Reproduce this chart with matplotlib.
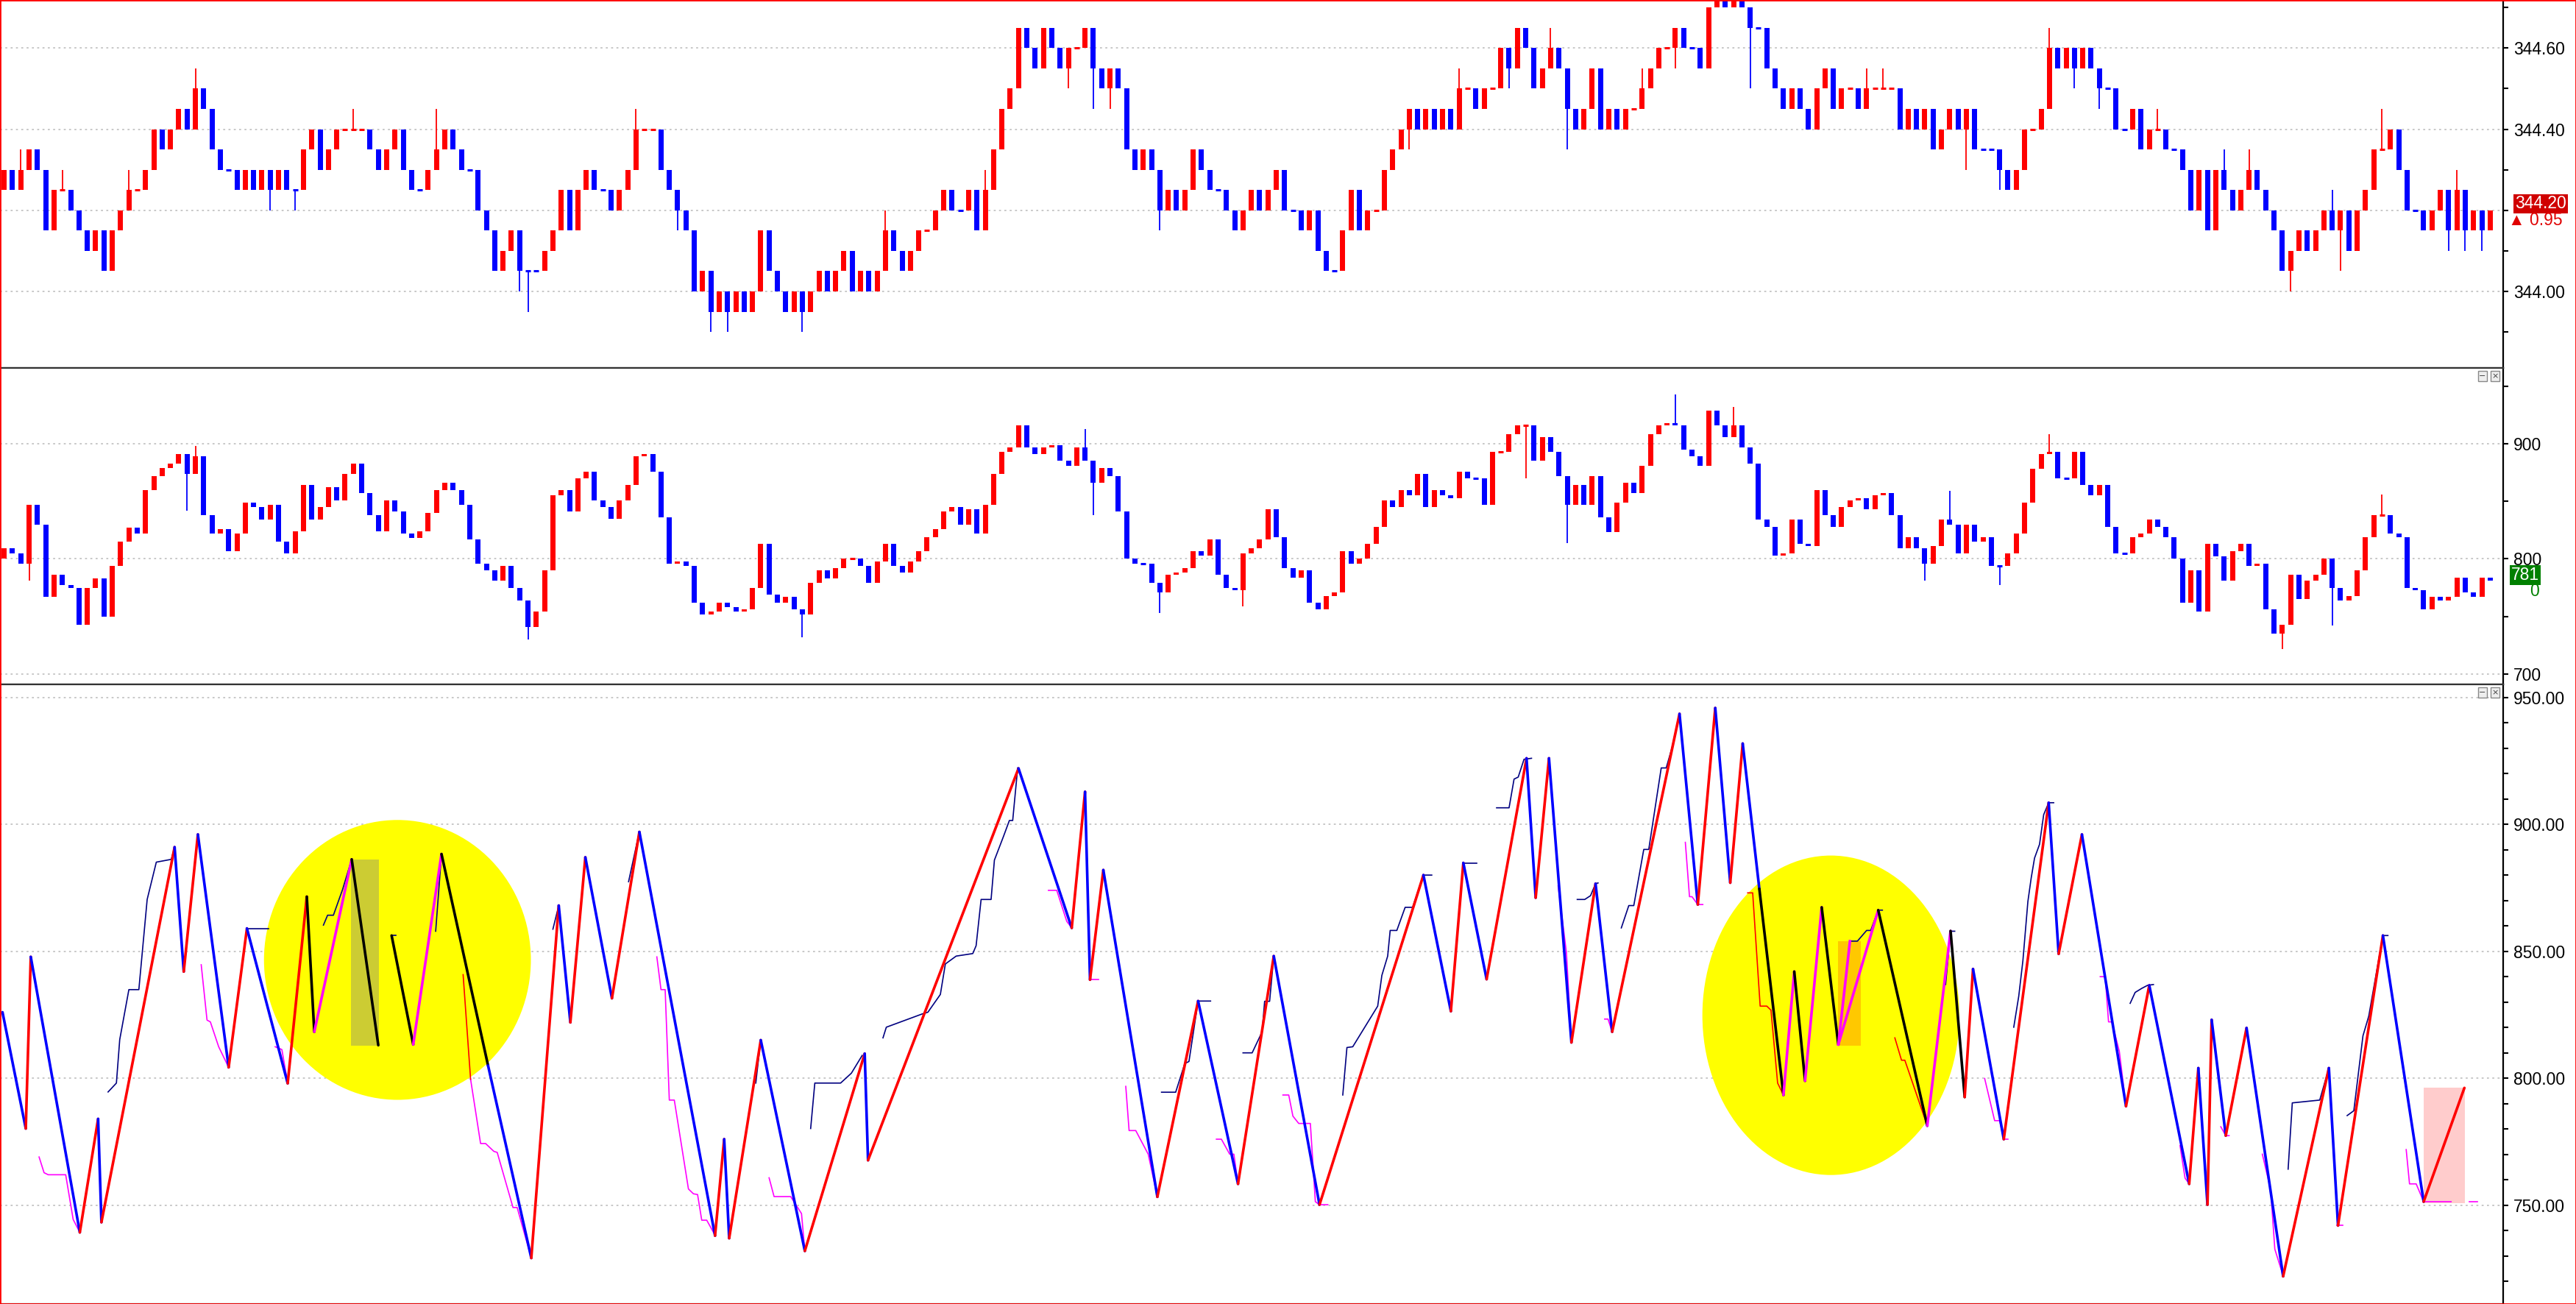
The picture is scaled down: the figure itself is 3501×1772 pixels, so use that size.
import matplotlib
matplotlib.use("Agg")
import matplotlib.pyplot as plt
from matplotlib.patches import Ellipse, Rectangle
from matplotlib.ticker import MultipleLocator, FormatStrFormatter, FuncFormatter
import numpy as np

plt.rcParams['font.family'] = ['Liberation Sans', 'DejaVu Sans']

# ---------------- data ----------------
# top panel: price, closes as tick levels above 344.00 (tick = 0.05)
price_base = 344.00
price_tick = 0.05
price_open0 = 5
price_close = [
    6, 5, 6, 7, 6, 3, 5, 5, 4, 3,
    2, 3, 1, 3, 4, 5, 5, 6, 8, 7,
    8, 9, 8, 10, 9, 7, 6, 6, 5, 6,
    5, 6, 5, 6, 5, 5, 7, 8, 6, 7,
    8, 8, 8, 8, 7, 6, 7, 8, 6, 5,
    5, 6, 7, 8, 7, 6, 6, 4, 3, 1,
    2, 3, 1, 1, 1, 2, 3, 5, 3, 5,
    6, 5, 5, 4, 5, 6, 8, 8, 8, 6,
    5, 4, 3, 0, 1, -1, 0, -1, 0, -1,
    0, 3, 1, 0, -1, 0, -1, 0, 1, 0,
    1, 2, 0, 1, 0, 1, 3, 2, 1, 2,
    3, 3, 4, 5, 4, 4, 5, 3, 5, 7,
    9, 10, 13, 12, 11, 13, 12, 11, 12, 12,
    13, 11, 10, 11, 10, 7, 6, 7, 6, 4,
    5, 4, 5, 7, 6, 5, 5, 4, 3, 4,
    5, 4, 5, 6, 4, 4, 3, 4, 2, 1,
    1, 3, 5, 3, 4, 4, 6, 7, 8, 9,
    8, 9, 8, 9, 8, 10, 10, 9, 10, 10,
    12, 11, 13, 12, 10, 11, 12, 11, 9, 8,
    9, 11, 8, 9, 8, 9, 9, 10, 11, 12,
    12, 13, 12, 12, 11, 14, 15, 14, 15, 14,
    13, 13, 11, 10, 9, 10, 9, 8, 10, 11,
    9, 10, 10, 9, 10, 10, 10, 10, 8, 9,
    8, 9, 7, 8, 9, 8, 9, 7, 7, 7,
    6, 5, 6, 8, 8, 9, 12, 11, 12, 11,
    12, 11, 10, 10, 8, 8, 9, 7, 8, 8,
    7, 7, 6, 4, 6, 3, 6, 5, 4, 5,
    6, 5, 4, 3, 1, 2, 3, 2, 3, 4,
    3, 4, 2, 4, 5, 7, 7, 8, 6, 4,
    4, 3, 4, 5, 3, 5, 3, 4, 3, 4,
]
price_hi = {2: 7, 7: 6, 15: 6, 23: 11, 42: 9, 52: 9, 76: 9, 106: 4, 118: 6,
            175: 11, 186: 13, 197: 11, 206: 16, 224: 11, 226: 11, 229: 9,
            246: 13, 259: 9, 267: 7, 270: 7, 280: 5, 286: 9, 295: 6}
price_lo = {13: 2, 32: 4, 35: 4, 62: 0, 63: -1, 81: 3, 85: -2, 87: -2, 96: -2,
            108: 1, 128: 10, 131: 9, 133: 9, 139: 3, 169: 7, 181: 10, 188: 7,
            201: 11, 210: 10, 236: 6, 240: 5, 249: 10, 252: 9, 262: 6, 275: 0,
            281: 1, 294: 2, 296: 2, 298: 2}

# middle panel: indicator candles
delta_open0 = 800
delta_close = [
    809, 805, 796, 847, 830, 767, 786, 777, 775, 743,
    775, 783, 750, 794, 815, 827, 822, 860, 872, 879,
    883, 891, 874, 889, 838, 822, 826, 807, 822, 849,
    845, 834, 847, 815, 805, 824, 864, 834, 845, 862,
    851, 874, 883, 857, 838, 824, 851, 841, 822, 818,
    824, 840, 860, 866, 860, 847, 817, 796, 790, 781,
    794, 775, 764, 741, 754, 790, 855, 860, 841, 870,
    876, 851, 845, 835, 851, 864, 889, 891, 876, 836,
    796, 798, 794, 762, 752, 754, 762, 758, 754, 756,
    775, 813, 769, 762, 767, 756, 752, 779, 790, 783,
    792, 800, 800, 794, 779, 798, 813, 794, 788, 798,
    807, 819, 826, 841, 845, 830, 843, 822, 847, 874,
    893, 897, 916, 897, 891, 897, 899, 885, 881, 897,
    885, 866, 879, 872, 841, 800, 796, 796, 779, 771,
    786, 788, 792, 807, 803, 817, 786, 775, 773, 805,
    809, 817, 843, 819, 792, 784, 790, 762, 756, 768,
    771, 807, 796, 800, 813, 828, 851, 845, 860, 855,
    874, 845, 860, 855, 853, 876, 870, 870, 847, 893,
    893, 908, 916, 916, 885, 906, 893, 872, 847, 864,
    847, 872, 836, 823, 849, 866, 857, 881, 908, 916,
    918, 916, 895, 889, 881, 929, 916, 906, 916, 897,
    883, 834, 828, 803, 805, 834, 813, 811, 860, 838,
    828, 845, 851, 853, 843, 855, 857, 838, 809, 819,
    809, 796, 811, 834, 830, 805, 830, 815, 819, 794,
    794, 805, 822, 849, 878, 891, 893, 870, 870, 893,
    864, 855, 864, 828, 805, 805, 819, 822, 834, 828,
    819, 800, 762, 790, 754, 813, 802, 781, 807, 813,
    794, 796, 756, 735, 743, 786, 765, 781, 786, 800,
    775, 764, 768, 790, 819, 838, 838, 822, 819, 775,
    773, 756, 767, 764, 767, 784, 771, 767, 784, 781,
]
delta_hi = {23: 898, 130: 913, 201: 943, 208: 932, 234: 859, 246: 908, 286: 856}
delta_lo = {3: 781, 22: 842, 63: 730, 96: 732, 131: 838, 139: 753, 149: 759,
            183: 870, 188: 814, 231: 781, 240: 777, 274: 722, 280: 742}

# bottom panel: swing (zigzag) points, x in bar units
zz_x = [-0.2, 2.6, 3.2, 9.1, 11.3, 11.7, 20.5, 21.6, 23.3, 27.0,
        29.2, 34.1, 36.4, 37.3, 41.8, 45.0, 46.6, 49.2, 52.6, 58.2,
        63.4, 66.7, 68.1, 69.9, 73.1, 76.4, 85.5, 86.6, 87.2, 91.0,
        96.3, 103.5, 103.9, 122.0, 128.4, 130.0, 130.6, 132.2, 138.7, 143.6,
        148.4, 152.7, 158.2, 170.7, 174.0, 175.5, 178.3, 183.1, 184.2, 185.8,
        188.5, 191.4, 193.4, 201.5, 203.7, 205.8, 207.6, 209.1, 211.1, 214.0,
        215.3, 216.6, 218.6, 220.6, 225.4, 231.3, 234.1, 235.8, 236.8, 240.5,
        245.9, 247.1, 249.9, 255.2, 258.0, 262.8, 263.9, 265.0, 265.5, 267.2,
        269.7, 274.1, 279.6, 280.7, 286.1, 291.0, 295.9]
zz_y = [826.0, 780.2, 847.8, 739.3, 784.0, 743.3, 891.0, 842.0, 896.0, 804.3,
        859.0, 798.0, 871.5, 818.3, 886.2, 813.0, 856.2, 813.3, 888.3, 805.0,
        729.2, 868.0, 822.0, 887.0, 831.5, 897.0, 738.0, 776.0, 737.0, 815.0,
        732.0, 809.7, 767.7, 922.0, 859.2, 912.8, 838.8, 882.0, 753.3, 830.4,
        758.4, 848.1, 750.2, 880.0, 826.4, 884.8, 839.0, 926.0, 871.1, 926.0,
        814.1, 876.6, 818.3, 943.5, 868.4, 945.8, 877.0, 931.8, 874.6, 793.4,
        842.0, 799.0, 867.3, 813.3, 866.2, 781.3, 858.0, 792.6, 843.0, 776.0,
        908.5, 849.0, 896.0, 789.0, 836.6, 758.4, 804.0, 750.2, 823.0, 777.4,
        819.8, 722.0, 804.0, 742.0, 856.2, 751.4, 796.2]
# leg colour ending at each point: r up, b down, k / m highlighted, - gap
zz_leg = "-brbrbrbrbrbrkmk-kmk" + "br" * 19 + "b" + "kmkmkmkmk" + "rb" * 9 + "r"

# thin navy step lines
navy_lines = [
    ([12.5, 13.5, 13.9, 15.0, 16.2, 17.2, 18.3, 20.1, 20.5],
     [794.6, 798.1, 815.2, 834.9, 834.9, 870.4, 885.1, 886.2, 891.1]),
    ([29.2, 31.8], [859.0, 859.0]),
    ([38.4, 38.9, 39.6, 40.7, 41.8], [860.3, 864.2, 864.2, 874.3, 886.2]),
    ([46.6, 47.1], [856.2, 856.2]),
    ([51.9, 52.6], [857.9, 888.3]),
    ([66.0, 66.7], [858.7, 868.0]),
    ([75.1, 76.4], [877.4, 897.1]),
    ([90.4, 91.0], [798.1, 815.2]),
    ([97.0, 97.5, 100.6, 101.9, 103.2], [780.2, 798.1, 798.1, 802.0, 809.0]),
    ([105.7, 106.1, 110.4, 111.1, 112.6, 113.2, 114.5, 116.5, 116.9, 117.5,
      118.7, 119.1, 120.2, 120.9, 121.3, 121.9],
     [815.9, 820.1, 825.3, 826.0, 833.0, 845.0, 848.1, 849.1, 852.2, 870.4,
      870.4, 885.9, 895.3, 901.5, 901.5, 922.2]),
    ([139.2, 140.9, 142.0, 142.5, 143.6, 145.1],
     [794.5, 794.5, 805.8, 806.6, 830.4, 830.4]),
    ([149.0, 150.1, 151.3, 151.6, 152.2, 152.7],
     [810.0, 810.0, 818.3, 830.3, 830.3, 848.1]),
    ([161.0, 161.5, 162.2, 165.2, 165.7, 166.4, 166.7, 167.5, 168.5, 169.4, 170.7, 171.7],
     [793.4, 812.1, 812.4, 828.4, 840.5, 848.1, 858.2, 858.2, 867.3, 867.3, 880.0, 880.0]),
    ([175.5, 177.1], [884.8, 884.8]),
    ([179.5, 181.0, 181.6, 182.1, 182.8, 183.7],
     [906.5, 906.5, 917.8, 918.6, 925.6, 926.0]),
    ([189.2, 190.1, 190.8, 191.4, 191.7], [870.4, 870.4, 871.9, 876.6, 876.9]),
    ([194.5, 195.4, 196.0, 197.2, 197.8, 199.3, 199.9, 200.6, 201.5],
     [859.2, 868.0, 868.0, 890.1, 890.1, 922.2, 922.2, 930.2, 943.5]),
    ([222.0, 222.9, 224.0, 224.5, 225.4, 225.9],
     [854.0, 854.0, 858.2, 858.2, 866.2, 866.2]),
    ([233.5, 234.1, 234.6], [836.9, 857.9, 857.9]),
    ([241.7, 242.3, 242.8, 243.4, 243.8, 244.2, 244.8, 245.3, 245.9, 246.5],
     [820.1, 832.3, 846.3, 869.6, 878.9, 886.7, 892.1, 903.8, 908.5, 908.5]),
    ([255.7, 256.3, 257.1, 257.8, 258.5], [829.5, 833.8, 835.4, 836.6, 836.9]),
    ([274.7, 275.2, 278.5, 279.6], [764.2, 790.3, 791.4, 804.0]),
    ([281.8, 282.6, 283.7, 284.4, 286.1, 286.7],
     [785.3, 787.2, 816.7, 824.5, 856.2, 856.2]),
]
# thin magenta step lines
magenta_lines = [
    ([4.2, 4.8, 5.3, 7.4, 8.3, 9.1], [769.0, 762.8, 762.0, 762.0, 744.4, 739.3]),
    ([23.7, 24.4, 24.8, 25.8, 27.0], [844.7, 822.9, 822.2, 812.4, 804.3]),
    ([32.6, 33.4, 34.1], [812.4, 811.3, 798.1]),
    ([56.1, 57.3, 57.9, 58.9, 59.3, 61.2, 61.7, 63.4],
     [799.6, 774.3, 774.3, 771.2, 770.8, 749.1, 749.1, 729.2]),
    ([78.5, 79.0, 79.5, 80.0, 80.6, 82.3, 82.9, 83.4, 83.9, 84.5, 85.5],
     [847.8, 834.9, 834.9, 791.4, 791.4, 756.4, 754.5, 754.2, 744.1, 744.1, 738.2]),
    ([92.0, 92.6, 94.6, 95.9, 96.3], [760.8, 753.4, 753.4, 746.7, 731.9]),
    ([125.6, 126.6, 127.8, 128.4], [874.0, 874.0, 861.8, 859.2]),
    ([130.6, 131.6], [838.8, 838.8]),
    ([134.9, 135.3, 136.1, 137.6, 138.7], [796.8, 779.4, 779.4, 770.1, 753.3]),
    ([145.8, 146.4, 147.4, 147.9, 148.4], [776.0, 776.0, 770.1, 770.1, 758.4]),
    ([153.8, 154.5, 155.0, 155.7, 157.1, 157.7, 158.2, 159.2],
     [793.4, 793.4, 785.1, 782.2, 782.2, 751.4, 750.2, 750.2]),
    ([186.9, 187.9, 188.5], [875.8, 849.4, 814.1]),
    ([192.5, 192.9, 193.4], [823.3, 823.3, 818.3]),
    ([202.2, 202.7, 203.0, 203.7, 204.3], [892.9, 871.5, 871.5, 868.4, 868.4]),
    ([238.2, 239.4, 240.0, 240.5, 241.0], [799.9, 783.3, 783.3, 776.0, 776.0]),
    ([252.1, 252.7, 253.1, 253.5, 254.4, 255.2], [840.0, 840.0, 822.2, 822.2, 810.5, 789.0]),
    ([261.7, 262.3, 262.8], [773.5, 760.7, 758.4]),
    ([266.6, 267.2, 267.6], [780.9, 777.4, 777.4]),
    ([271.6, 272.6, 273.1, 274.1], [770.1, 756.1, 732.7, 722.2]),
    ([280.6, 281.3], [742.1, 742.1]),
    ([288.9, 289.3, 290.1, 291.0, 294.3], [771.9, 758.4, 758.4, 751.4, 751.4]),
    ([296.5, 297.5], [751.4, 751.4]),
]
# thin red step lines
red_lines = [
    ([55.2, 56.1], [840.8, 799.6]),
    ([209.7, 210.3, 211.2, 212.0, 212.5, 213.3, 214.0],
     [873.0, 873.0, 828.4, 828.4, 826.8, 798.1, 793.4]),
    ([227.4, 228.2, 228.6, 231.3], [815.9, 807.1, 807.1, 781.3]),
]
# second highlighted up-leg inside the right circle
extra_leg_x = [220.6, 222.0]
extra_leg_y = [813.3, 854.0]

# highlight shapes (bar units / values)
circles = [(47.3, 846.6, 32.1, 110.2), (219.7, 824.8, 30.9, 125.8)]
boxes = [(41.7, 812.7, 3.4, 73.5, '#cccc33'),
         (220.6, 812.7, 2.7, 41.3, '#ffc800'),
         (291.0, 750.9, 5.0, 45.3, '#ffcccc')]

last_price = 344.20
last_change = "\u25b2 0.95"
last_delta = 781
last_delta_change = "0"

# ---------------- drawing ----------------
RED = '#ff0000'
BLUE = '#0000ff'
W, H = 3501, 1772
FS = 16.5
fig = plt.figure(figsize=(W / 100, H / 100), dpi=100)
fig.patch.set_facecolor('white')

plot_w = 3402 / W
ax1 = fig.add_axes([0, 1 - 500 / H, plot_w, 500 / H])
ax2 = fig.add_axes([0, 1 - 930 / H, plot_w, 430 / H])
ax3 = fig.add_axes([0, 0, plot_w, 842 / H])

xlim = (-0.5, 3402 / 11.3 - 0.5)


def draw_candles(ax, opens, closes, highs, lows, width):
    x = np.arange(len(closes))
    cols = []
    last = RED
    for o, c in zip(opens, closes):
        if c > o:
            last = RED
        elif c < o:
            last = BLUE
        cols.append(last)
    cols = np.array(cols)
    ax.vlines(x, lows, highs, colors=cols, lw=1.3, zorder=2)
    body = closes != opens
    ax.bar(x[body], (closes - opens)[body], bottom=opens[body], width=width,
           color=cols[body], linewidth=0, zorder=3)
    flat = ~body
    ax.hlines(closes[flat], x[flat] - width / 2, x[flat] + width / 2,
              colors=cols[flat], lw=2.2, zorder=3)


# top panel
lv_close = np.array(price_close)
lv_open = np.concatenate([[price_open0], lv_close[:-1]])
lv_hi = np.maximum(lv_open, lv_close).astype(float)
lv_lo = np.minimum(lv_open, lv_close).astype(float)
for k, v in price_hi.items():
    lv_hi[k] = v
for k, v in price_lo.items():
    lv_lo[k] = v
p_close = price_base + price_tick * lv_close
p_open = price_base + price_tick * lv_open
draw_candles(ax1, p_open, p_close, price_base + price_tick * lv_hi,
             price_base + price_tick * lv_lo, 0.62)
ax1.set_ylim(343.8113, 344.7185)

# middle panel
d_close = np.array(delta_close, dtype=float)
d_open = np.concatenate([[delta_open0], d_close[:-1]])
d_hi = np.maximum(d_open, d_close)
d_lo = np.minimum(d_open, d_close)
for k, v in delta_hi.items():
    d_hi[k] = v
for k, v in delta_lo.items():
    d_lo[k] = v
draw_candles(ax2, d_open, d_close, d_hi, d_lo, 0.62)
ax2.set_ylim(691.05, 965.8)

# bottom panel
for cx, cy, ew, eh in circles:
    ax3.add_patch(Ellipse((cx, cy), ew, eh, facecolor='#ffff00', edgecolor='none', zorder=1))
for bx, by, bw, bh, bc in boxes:
    ax3.add_patch(Rectangle((bx, by), bw, bh, facecolor=bc, edgecolor='none', zorder=1.5))
for xs, ys in navy_lines:
    ax3.plot(xs, ys, color='#000080', lw=1.2, zorder=2)
for xs, ys in magenta_lines:
    ax3.plot(xs, ys, color='#ff00ff', lw=1.2, zorder=2)
for xs, ys in red_lines:
    ax3.plot(xs, ys, color=RED, lw=1.2, zorder=2)
leg_colors = {'r': RED, 'b': BLUE, 'k': '#000000', 'm': '#ff00ff'}
for i in range(1, len(zz_x)):
    c = zz_leg[i]
    if c == '-':
        continue
    ax3.plot(zz_x[i - 1:i + 1], zz_y[i - 1:i + 1], color=leg_colors[c], lw=2.6,
             solid_capstyle='round', zorder=3)
ax3.plot(extra_leg_x, extra_leg_y, color='#ff00ff', lw=2.6, zorder=3)
ax3.set_ylim(711.1, 955.1)


def price_fmt(v, pos):
    # the last-price box sits on this level, so leave its tick label blank
    if abs(v - last_price) < 1e-6:
        return ''
    return '%.2f' % v


# axes styling
specs = [(ax1, 0.2, 0.1, FuncFormatter(price_fmt)),
         (ax2, 100, 50, FormatStrFormatter('%d')),
         (ax3, 50, 10, FormatStrFormatter('%.2f'))]
for ax, major, minor, fmt in specs:
    ax.set_xlim(*xlim)
    ax.set_facecolor('white')
    ax.yaxis.tick_right()
    ax.yaxis.set_major_locator(MultipleLocator(major))
    ax.yaxis.set_minor_locator(MultipleLocator(minor))
    ax.yaxis.set_major_formatter(fmt)
    ax.tick_params(axis='y', which='both', direction='out', length=5, width=1.5,
                   colors='black', labelsize=FS, pad=5, right=True, left=False)
    ax.tick_params(axis='x', which='both', bottom=False, labelbottom=False)
    ax.grid(which='major', axis='y', color='#c4c4c4', linestyle=(0, (1.5, 2.5)), lw=1.3)
    ax.set_axisbelow(True)
    ax.spines['left'].set_visible(False)
    ax.spines['right'].set_color('black')
    ax.spines['right'].set_linewidth(1.6)
    for s in ('top', 'bottom'):
        ax.spines[s].set_color('#333333')
        ax.spines[s].set_linewidth(1.6)

# last value labels
tx = 1.0 + 16 / 3402
ax1.text(tx, last_price + 0.016, '%.2f' % last_price, transform=ax1.get_yaxis_transform(),
         ha='left', va='center', fontsize=FS, color='white', zorder=10, clip_on=False,
         bbox=dict(boxstyle='square,pad=0.08', facecolor='#d00000', edgecolor='none'))
ax1.text(1.0 + 81 / 3402, last_price - 0.025, last_change, transform=ax1.get_yaxis_transform(),
         ha='right', va='center', fontsize=FS, color='#e00000', zorder=10, clip_on=False)
ax2.text(1.0 + 49 / 3402, last_delta + 5, str(last_delta), transform=ax2.get_yaxis_transform(),
         ha='right', va='center', fontsize=FS, color='white', zorder=10, clip_on=False,
         bbox=dict(boxstyle='square,pad=0.08', facecolor='#008000', edgecolor='none'))
ax2.text(1.0 + 49 / 3402, last_delta - 9, last_delta_change, transform=ax2.get_yaxis_transform(),
         ha='right', va='center', fontsize=FS, color='#008000', zorder=10, clip_on=False)

# small window buttons
for ytop in (505, 935):
    for xl, sym in ((3368, '\u2212'), (3385, '\u00d7')):
        fig.text((xl + 6) / W, 1 - (ytop + 6) / H, sym, ha='center', va='center',
                 fontsize=8, color='#404040', family=['DejaVu Sans'],
                 bbox=dict(boxstyle='square,pad=0.15', facecolor='#eeeeee',
                           edgecolor='#888888', linewidth=1))

# red frame around the whole image
fig.patches.append(Rectangle((0, 0), 1, 1, transform=fig.transFigure, fill=False,
                             edgecolor='red', linewidth=2, zorder=20))

fig.savefig('out.png', dpi=100, facecolor='white')
